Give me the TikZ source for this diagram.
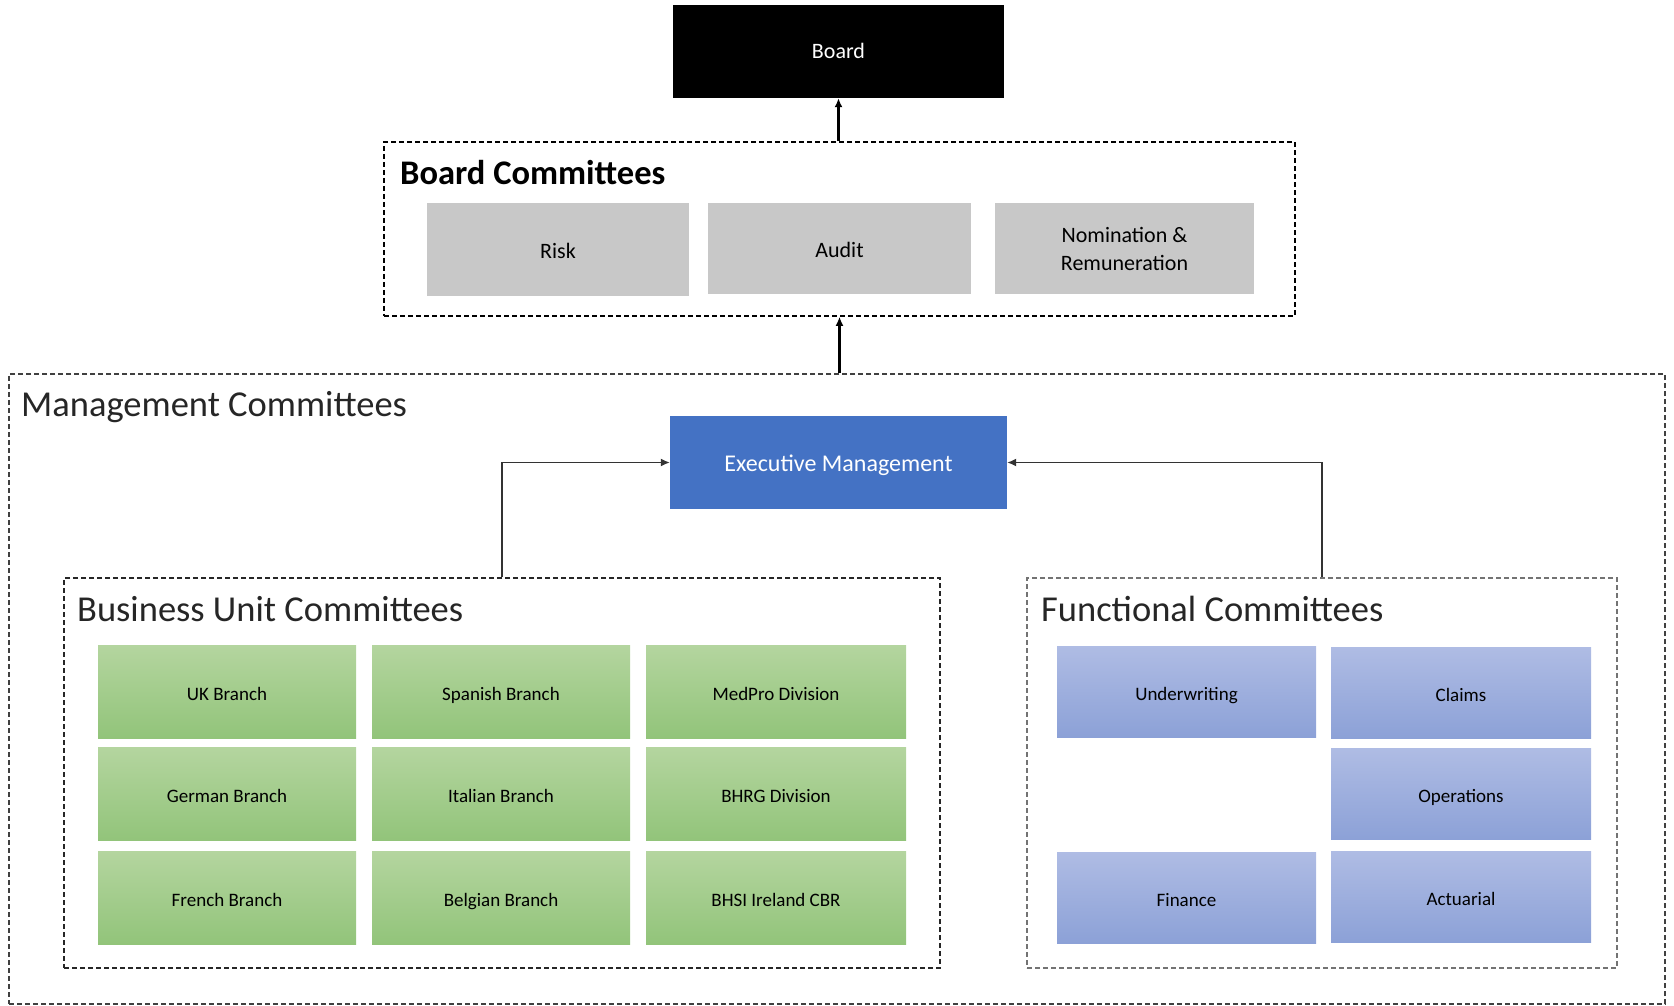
\documentclass[tikz,border=0pt]{standalone}
\usepackage{fontspec}
\setmainfont{Carlito}
\usetikzlibrary{arrows.meta}
\definecolor{titlegray}{HTML}{262626}
\definecolor{execblue}{HTML}{4472C4}
\definecolor{grtop}{HTML}{B4D59F}
\definecolor{grbot}{HTML}{92C47A}
\definecolor{bltop}{HTML}{AFBCE4}
\definecolor{blbot}{HTML}{8CA1D7}
\definecolor{bcgray}{HTML}{C8C8C8}
\tikzset{
  px/.style={x=1pt,y=-1pt},
  boardbox/.style={draw=none,fill=black,text=white,font=\fontsize{22}{26}\selectfont,inner sep=0pt,text height=15pt,text depth=0pt},
  graybox/.style={draw=none,fill=bcgray,text=black,font=\fontsize{22}{28}\selectfont,align=center,inner sep=0pt},
  grayone/.style={graybox,text height=17pt,text depth=0pt},
  execbox/.style={draw=none,fill=execblue,text=white,font=\fontsize{24}{28}\selectfont,inner sep=0pt,text height=17pt,text depth=0pt},
  greenbox/.style={draw=none,top color=grtop,bottom color=grbot,text=black,font=\fontsize{19}{22}\selectfont,inner sep=0pt,minimum height=93pt,text height=17pt,text depth=0pt},
  bluebox/.style={draw=none,top color=bltop,bottom color=blbot,text=black,font=\fontsize{19}{22}\selectfont,inner sep=0pt,minimum height=91pt,text height=17pt,text depth=0pt},
  groupbox/.style={line width=1.6pt,inner sep=0pt,dash pattern=on 5pt off 3pt},
  grouptitle/.style={anchor=west,inner sep=0pt,text=titlegray,font=\fontsize{36.5}{42}\selectfont},
  uparrow/.style={-{Latex[length=9pt,width=8pt]},line width=2.6pt,black},
  thinarrow/.style={-{Latex[length=9pt,width=8pt]},line width=1.4pt,black!80},
}
\begin{document}
\begin{tikzpicture}[px]
\useasboundingbox (0,0) rectangle (1674,1006);
% Board
\node[boardbox,minimum width=331pt,minimum height=93pt] (board) at (838.5,51.5) {Board};
% Board committees
\node[groupbox,draw=black,minimum width=911pt,minimum height=174pt] (bc) at (839.5,229) {};
\node[grouptitle,font=\fontsize{34.5}{40}\selectfont\bfseries,text=black] (bctitle) at (400,173) {Board Committees};
\node[grayone,minimum width=262pt,minimum height=93pt] (risk) at (558,249.5) {Risk};
\node[grayone,minimum width=263pt,minimum height=91pt] (audit) at (839.5,248.5) {Audit};
\node[graybox,minimum width=259pt,minimum height=91pt] (nom) at (1124.5,248.5) {Nomination \&\\Remuneration};
% Management committees
\node[groupbox,draw=black!75,minimum width=1656pt,minimum height=630pt] (mc) at (837,689) {};
\node[grouptitle] (mctitle) at (21,407) {Management Committees};
\node[execbox,minimum width=337pt,minimum height=93pt] (exec) at (838.5,462.5) {Executive Management};
% Business unit committees
\node[groupbox,draw=black!85,minimum width=876pt,minimum height=390pt] (bu) at (502,773) {};
\node[grouptitle] (butitle) at (77,609) {Business Unit Committees};
\node[greenbox,minimum width=258pt] (uk) at (227,691.5) {UK Branch};
\node[greenbox,minimum width=258pt] (es) at (501,691.5) {Spanish Branch};
\node[greenbox,minimum width=260pt] (med) at (776,691.5) {MedPro Division};
\node[greenbox,minimum width=258pt] (de) at (227,794) {German Branch};
\node[greenbox,minimum width=258pt] (it) at (501,794) {Italian Branch};
\node[greenbox,minimum width=260pt] (bhrg) at (776,794) {BHRG Division};
\node[greenbox,minimum width=258pt] (fr) at (227,897.5) {French Branch};
\node[greenbox,minimum width=258pt] (be) at (501,897.5) {Belgian Branch};
\node[greenbox,minimum width=260pt] (bhsi) at (776,897.5) {BHSI Ireland CBR};
% Functional committees
\node[groupbox,draw=black!55,minimum width=590pt,minimum height=390pt] (fc) at (1322,773) {};
\node[grouptitle] (fctitle) at (1041,609) {Functional Committees};
\node[bluebox,minimum width=259pt] (uw) at (1186.5,691.5) {Underwriting};
\node[bluebox,minimum width=260pt] (claims) at (1461,692.5) {Claims};
\node[bluebox,minimum width=260pt] (ops) at (1461,794) {Operations};
\node[bluebox,minimum width=259pt] (fin) at (1186.5,897.5) {Finance};
\node[bluebox,minimum width=260pt] (act) at (1461,896.5) {Actuarial};
% connectors
\draw[uparrow] (bc.north -| board.south) -- (board.south);
\draw[uparrow] (mc.north -| bc.south) -- (bc.south);
\draw[thinarrow] (bu.north) |- (exec.west);
\draw[thinarrow] (fc.north) |- (exec.east);
\end{tikzpicture}
\end{document}
